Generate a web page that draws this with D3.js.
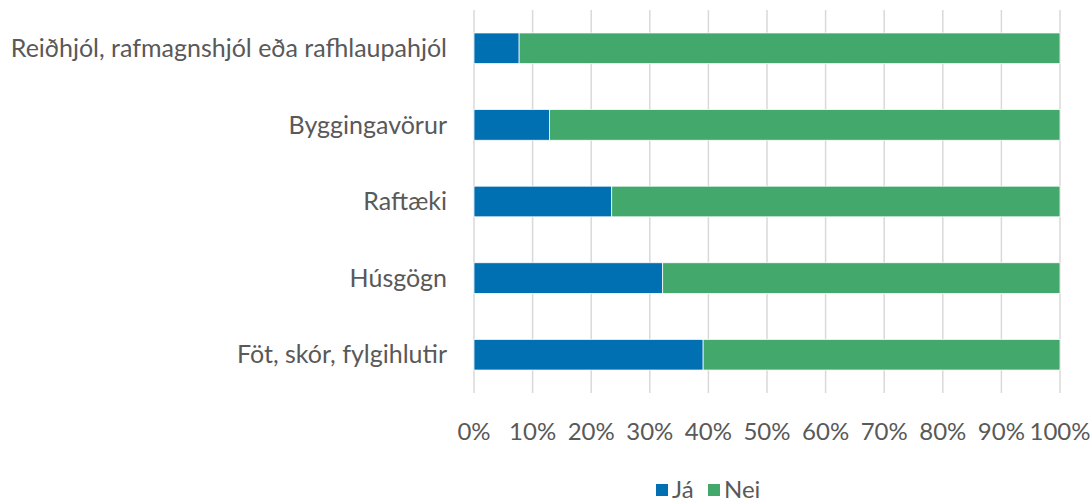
<!DOCTYPE html>
<html>
<head>
<meta charset="utf-8">
<script src="https://cdn.jsdelivr.net/npm/d3@7"></script>
<style>
  body { margin: 0; background: #fff; }
  svg text { font-family: Lato, "Open Sans", sans-serif; fill: #595959; }
</style>
</head>
<body>
<svg id="chart" width="1092" height="502"></svg>
<script>
// categories top to bottom
const categories = [
  'Reiðhjól, rafmagnshjól eða rafhlaupahjól',
  'Byggingavörur',
  'Raftæki',
  'Húsgögn',
  'Föt, skór, fylgihlutir'
];
const seriesNames = ['Já', 'Nei'];
const jaValues = [7.7, 12.9, 23.5, 32.2, 39.1];
const neiValues = [92.3, 87.1, 76.5, 67.8, 60.9];
const tickValues = [0, 10, 20, 30, 40, 50, 60, 70, 80, 90, 100];
const colors = ['#0070b2', '#43a86c'];

const width = 1092;
const height = 502;
const margin = { top: 10, right: 32, bottom: 109, left: 474 };

const svg = d3.select('#chart');

const x = d3.scaleLinear()
  .domain([0, 100])
  .range([margin.left, width - margin.right]);

const y = d3.scaleBand()
  .domain(categories)
  .range([margin.top, height - margin.bottom])
  .paddingInner(0.6)
  .paddingOuter(0.3);

// gridlines
svg.append('g')
  .selectAll('line')
  .data(tickValues)
  .enter()
  .append('line')
  .attr('x1', d => x(d))
  .attr('x2', d => x(d))
  .attr('y1', margin.top)
  .attr('y2', height - margin.bottom)
  .attr('stroke', '#d9d9d9')
  .attr('stroke-width', 1.5);

const rows = categories.map((c, i) => ({ category: c, 'Já': jaValues[i], 'Nei': neiValues[i] }));
const stacked = d3.stack().keys(seriesNames)(rows);

svg.append('g')
  .selectAll('g')
  .data(stacked)
  .enter()
  .append('g')
  .attr('fill', (d, i) => colors[i])
  .selectAll('rect')
  .data(d => d)
  .enter()
  .append('rect')
  .attr('x', d => x(d[0]))
  .attr('width', d => x(d[1]) - x(d[0]))
  .attr('y', d => y(d.data.category))
  .attr('height', y.bandwidth())
  .attr('stroke', '#fff')
  .attr('stroke-width', 0.75);

// category labels
svg.append('g')
  .selectAll('text')
  .data(categories)
  .enter()
  .append('text')
  .attr('x', margin.left - 27)
  .attr('y', d => y(d) + y.bandwidth() / 2)
  .attr('dy', '0.35em')
  .attr('text-anchor', 'end')
  .style('font-size', '25px')
  .text(d => d);

// x tick labels
svg.append('g')
  .selectAll('text')
  .data(tickValues)
  .enter()
  .append('text')
  .attr('x', d => x(d))
  .attr('y', 432)
  .attr('dy', '0.35em')
  .attr('text-anchor', 'middle')
  .style('font-size', '24px')
  .text(d => d + '%');

// legend
const legend = svg.append('g');
const legendX = [656, 708];
seriesNames.forEach((name, i) => {
  legend.append('rect')
    .attr('x', legendX[i])
    .attr('y', 484)
    .attr('width', 12)
    .attr('height', 12)
    .attr('fill', colors[i]);
  legend.append('text')
    .attr('x', legendX[i] + 16)
    .attr('y', 490)
    .attr('dy', '0.35em')
    .style('font-size', '24px')
    .text(name);
});
</script>
</body>
</html>
